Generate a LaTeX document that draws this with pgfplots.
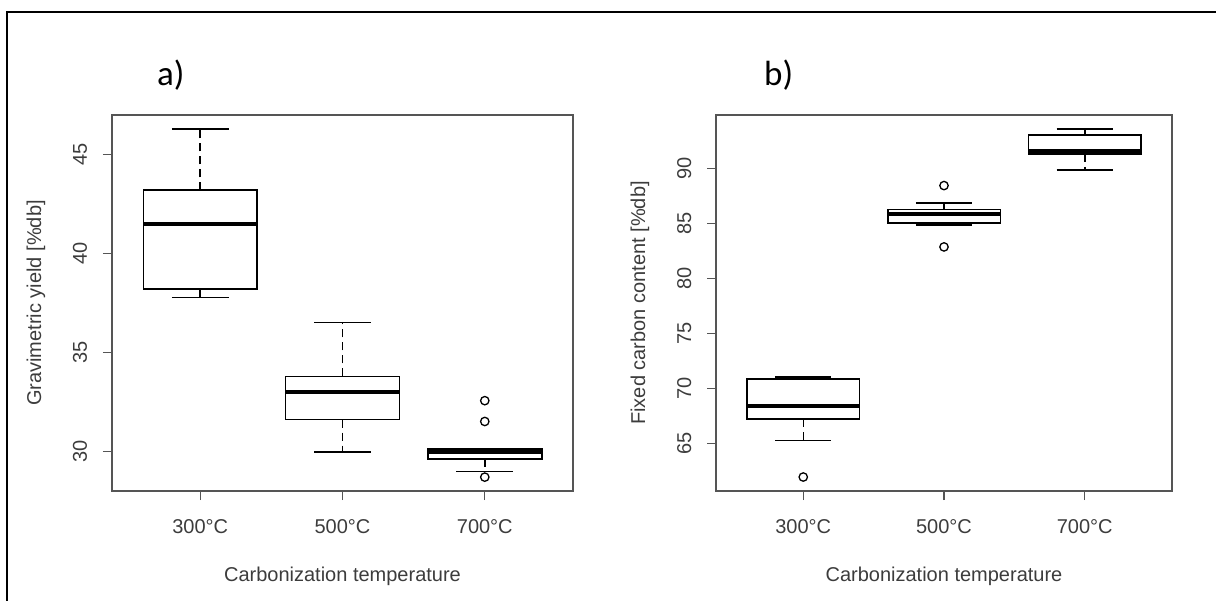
\documentclass[border=0pt]{standalone}
\usepackage{fontspec}
\setmainfont{Liberation Sans}
\newfontfamily\calibri{Carlito}
\usepackage{pgfplots}
\pgfplotsset{compat=1.18}
\usepgfplotslibrary{statistics}
\definecolor{txt}{HTML}{3C3C3C}
\definecolor{axc}{HTML}{555555}
\pgfplotsset{
  rbox/.style={
    scale only axis, height=376pt,
    xmin=0.38, xmax=3.62,
    xtick={1,2,3}, xticklabels={300°C,500°C,700°C},
    tick align=outside, major tick length=9pt,
    tick style={axc, line width=1.1pt},
    axis line style={axc, line width=1.3pt},
    xtick pos=bottom, ytick pos=left,
    font=\fontsize{20}{24}\selectfont,
    tick label style={txt, inner sep=0pt, outer sep=0pt},
    /pgf/number format/assume math mode=true,
    yticklabel style={anchor=base, xshift=-16pt, rotate=90},
    xticklabel style={anchor=base, yshift=-33pt},
    every axis x label/.style={at={(axis description cs:0.5,0)}, anchor=base, yshift=-90pt, txt},
    every axis y label/.style={at={(axis description cs:0,0.5)}, anchor=base, xshift=-71pt, rotate=90, txt},
    xlabel={Carbonization temperature},
    boxplot/draw direction=y,
  },
  /pgfplots/boxplot/bxs/.style={
    draw direction=y,
    every box/.style={line width=1.6pt},
    every median/.style={line width=4pt},
    draw/lower whisker/.code={
      \draw[dash pattern=on 8pt off 5pt, line width=1.5pt]
        (boxplot box cs:\pgfplotsboxplotvalue{lower quartile},0.5) --
        (boxplot box cs:\pgfplotsboxplotvalue{lower whisker},0.5);
      \draw[line width=1.6pt]
        (boxplot box cs:\pgfplotsboxplotvalue{lower whisker},0.25) --
        (boxplot box cs:\pgfplotsboxplotvalue{lower whisker},0.75);
    },
    draw/upper whisker/.code={
      \draw[dash pattern=on 8pt off 5pt, line width=1.5pt]
        (boxplot box cs:\pgfplotsboxplotvalue{upper quartile},0.5) --
        (boxplot box cs:\pgfplotsboxplotvalue{upper whisker},0.5);
      \draw[line width=1.6pt]
        (boxplot box cs:\pgfplotsboxplotvalue{upper whisker},0.25) --
        (boxplot box cs:\pgfplotsboxplotvalue{upper whisker},0.75);
    },
  },
  rb/.style={black, mark=o, mark size=4.2pt, mark options={solid, line width=1.3pt}},
}
\begin{document}
\begin{tikzpicture}
\path[use as bounding box] (0pt,0pt) rectangle (1216pt,-601pt);
\draw[line width=2pt] (7pt,-601pt) -- (7pt,-12pt) -- (1216pt,-12pt);
\node[font=\calibri\fontsize{35}{40}\selectfont, anchor=base west, inner sep=0pt] at (157pt,-86pt) {a)};
\node[font=\calibri\fontsize{35}{40}\selectfont, anchor=base west, inner sep=0pt] at (764pt,-86pt) {b)};

\begin{axis}[rbox, width=461pt, at={(112pt,-491pt)}, anchor=south west,
  ymin=28.02, ymax=47.0, ytick={30,35,40,45},
  ylabel={Gravimetric yield [\%db]}]
\addplot[rb, boxplot prepared={bxs, draw position=1, lower whisker=37.78, lower quartile=38.22, median=41.52, upper quartile=43.20, upper whisker=46.30}] coordinates {};
\addplot[rb, boxplot prepared={bxs, draw position=2, lower whisker=29.99, lower quartile=31.62, median=33.01, upper quartile=33.80, upper whisker=36.53}] coordinates {};
\addplot[rb, boxplot prepared={bxs, draw position=3, lower whisker=29.00, lower quartile=29.63, median=29.98, upper quartile=30.15, upper whisker=30.15}] table[row sep=\\, y index=0] {y\\ 28.72\\ 31.53\\ 32.58\\};
\end{axis}

\begin{axis}[rbox, width=456pt, at={(716pt,-491pt)}, anchor=south west,
  ymin=60.7, ymax=94.9, ytick={65,70,75,80,85,90},
  ylabel={Fixed carbon content [\%db]}]
\addplot[rb, boxplot prepared={bxs, draw position=1, lower whisker=65.30, lower quartile=67.24, median=68.45, upper quartile=70.90, upper whisker=71.06}] table[row sep=\\, y index=0] {y\\ 61.97\\};
\addplot[rb, boxplot prepared={bxs, draw position=2, lower whisker=84.90, lower quartile=85.09, median=85.91, upper quartile=86.30, upper whisker=86.91}] table[row sep=\\, y index=0] {y\\ 82.90\\ 88.48\\};
\addplot[rb, boxplot prepared={bxs, draw position=3, lower whisker=89.90, lower quartile=91.36, median=91.58, upper quartile=93.09, upper whisker=93.60}] coordinates {};
\end{axis}
\end{tikzpicture}
\end{document}
